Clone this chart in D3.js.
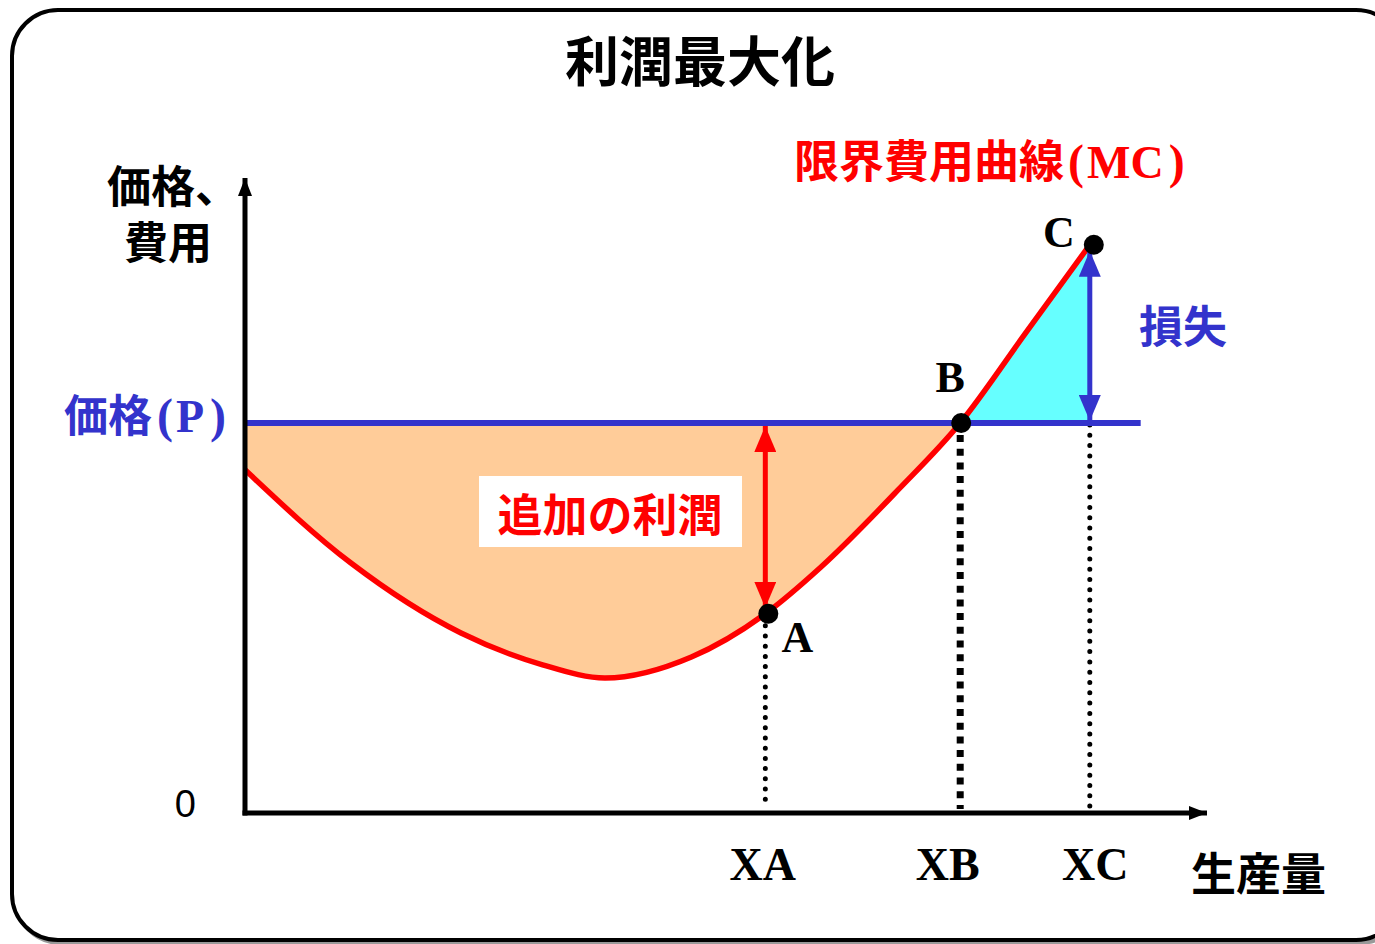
<!DOCTYPE html>
<html><head><meta charset="utf-8">
<script src="https://cdn.jsdelivr.net/npm/d3@7"></script>
<style>html,body{margin:0;padding:0;background:#fff;}svg{display:block;}</style>
</head><body>
<svg id="chart" width="1375" height="944"></svg>
<script>
// ---- data ----
const mcQuantity = [0, 11, 22.5, 31, 37.5, 46.5, 54.2, 60, 68, 74.5, 81.25, 88];
const mcCost     = [57.2, 41.7, 30, 24.7, 22.5, 26, 33.2, 41, 53.8, 65, 79.85, 94.7];
const price = 65;
const priceLineEnd = 93.3;
const pointNames = ["A", "B", "C"];
const pointQuantity = [54.2, 74.5, 88];
const pointCost = [33.2, 65, 94.7];
const xTickLabels = ["XA", "XB", "XC"];
const yTickValues = [0];

const CJK = "'Noto Sans CJK JP','Noto Sans CJK SC',sans-serif";
const SERIF = "'Liberation Serif','Times New Roman',serif";
const BLUE = "#3333cc", RED = "#ff0000";

const svg = d3.select("#chart");
const x = d3.scaleLinear().domain([0, 100]).range([245, 1205]);
const y = d3.scaleLinear().domain([0, 100]).range([813, 213]);
const mc = mcQuantity.map((q, i) => ({q, v: mcCost[i]}));

// frame
svg.append("rect").attr("x", 15).attr("y", 13).attr("width", 1390).attr("height", 930)
  .attr("rx", 46).attr("fill", "none").attr("stroke", "#999").attr("stroke-width", 4);
svg.append("rect").attr("x", 12).attr("y", 10).attr("width", 1390).attr("height", 930)
  .attr("rx", 46).attr("fill", "#fff").attr("stroke", "#000").attr("stroke-width", 4);

const defs = svg.append("defs");
function marker(id, color, w, l) {
  defs.append("marker").attr("id", id).attr("viewBox", `0 0 ${l} ${w}`)
    .attr("refX", l).attr("refY", w / 2).attr("markerWidth", l).attr("markerHeight", w)
    .attr("markerUnits", "userSpaceOnUse").attr("orient", "auto-start-reverse")
    .append("path").attr("d", `M0,0L${l},${w / 2}L0,${w}Z`).attr("fill", color);
}
marker("axArrow", "#000", 14, 18);
marker("redArrow", RED, 22, 26);
marker("blueArrow", BLUE, 22, 26);

// areas
const xB = pointQuantity[1], xC = pointQuantity[2];
defs.append("clipPath").attr("id", "clipProfit").append("rect")
  .attr("x", x(0)).attr("y", 0).attr("width", x(xB) - x(0)).attr("height", 944);
defs.append("clipPath").attr("id", "clipLoss").append("rect")
  .attr("x", x(xB)).attr("y", 0).attr("width", x(xC) - x(xB)).attr("height", 944);
const area = d3.area().x(d => x(d.q)).y0(y(price)).y1(d => y(d.v)).curve(d3.curveMonotoneX);
svg.append("path").datum(mc).attr("d", area).attr("fill", "#ffcc99").attr("clip-path", "url(#clipProfit)");
svg.append("path").datum(mc).attr("d", area).attr("fill", "#66ffff").attr("clip-path", "url(#clipLoss)");

// dotted guides
const guides = [
  {q: pointQuantity[0], top: y(pointCost[0]) + 12, w: 5, dash: "0 10.2", cap: "round"},
  {q: pointQuantity[1], top: y(pointCost[1]) + 12, w: 7, dash: "7 6.7", cap: "butt"},
  {q: pointQuantity[2], top: y(price) + 2, w: 5, dash: "0 10.3", cap: "round"}
];
guides.forEach(g => {
  svg.append("line").attr("x1", x(g.q)).attr("x2", x(g.q)).attr("y1", g.top).attr("y2", y(0) - 4)
    .attr("stroke", "#000").attr("stroke-width", g.w).attr("stroke-dasharray", g.dash)
    .attr("stroke-linecap", g.cap);
});

// price line
svg.append("line").attr("x1", x(0)).attr("x2", x(priceLineEnd)).attr("y1", y(price)).attr("y2", y(price))
  .attr("stroke", BLUE).attr("stroke-width", 6);

// MC curve
svg.append("path").datum(mc)
  .attr("d", d3.line().x(d => x(d.q)).y(d => y(d.v)).curve(d3.curveMonotoneX))
  .attr("fill", "none").attr("stroke", RED).attr("stroke-width", 5.5);

// arrows
svg.append("line").attr("x1", x(pointQuantity[0])).attr("x2", x(pointQuantity[0]))
  .attr("y1", y(price) + 3).attr("y2", y(pointCost[0]) - 6)
  .attr("stroke", RED).attr("stroke-width", 5)
  .attr("marker-start", "url(#redArrow)").attr("marker-end", "url(#redArrow)");
svg.append("line").attr("x1", x(xC) + 0).attr("x2", x(xC))
  .attr("y1", y(pointCost[2]) + 6).attr("y2", y(price) - 2)
  .attr("stroke", BLUE).attr("stroke-width", 5)
  .attr("marker-start", "url(#blueArrow)").attr("marker-end", "url(#blueArrow)");

// axes lines
svg.append("line").attr("x1", x(0)).attr("x2", x(0)).attr("y1", y(0) + 2.5).attr("y2", 178)
  .attr("stroke", "#000").attr("stroke-width", 5).attr("marker-end", "url(#axArrow)");
svg.append("line").attr("x1", x(0) - 2.5).attr("x2", 1207).attr("y1", y(0)).attr("y2", y(0))
  .attr("stroke", "#000").attr("stroke-width", 5).attr("marker-end", "url(#axArrow)");

// x axis ticks (labels only)
const xAxis = svg.append("g").attr("transform", `translate(0,${y(0)})`)
  .call(d3.axisBottom(x).tickValues(pointQuantity).tickFormat((d, i) => xTickLabels[i]).tickSize(0).tickPadding(0));
xAxis.select(".domain").remove();
xAxis.selectAll("text").attr("dy", null).attr("y", 67)
  .attr("font-family", SERIF).attr("font-weight", "bold").attr("font-size", 46).attr("fill", "#000")
  .attr("dx", (d, i) => [-3, -13, 5][i]);

// y axis tick "0"
const yAxis = svg.append("g").attr("transform", `translate(${x(0)},0)`)
  .call(d3.axisLeft(y).tickValues(yTickValues).tickFormat(d3.format("d")).tickSize(0).tickPadding(49));
yAxis.select(".domain").remove();
yAxis.selectAll("text").attr("dy", "0.1em").attr("font-family", "'Liberation Sans',Arial,sans-serif")
  .attr("font-size", 38).attr("fill", "#000");

// points
svg.selectAll("circle.pt").data(pointQuantity).join("circle").attr("class", "pt")
  .attr("cx", (d, i) => x(d) + [3, 1, 4][i]).attr("cy", (d, i) => y(pointCost[i]))
  .attr("r", 10).attr("fill", "#000");
const ptOffsets = [[32, 38], [-10, -31], [-31, 2]];
svg.selectAll("text.pl").data(pointNames).join("text").attr("class", "pl")
  .attr("x", (d, i) => x(pointQuantity[i]) + ptOffsets[i][0])
  .attr("y", (d, i) => y(pointCost[i]) + ptOffsets[i][1])
  .attr("text-anchor", "middle").attr("font-family", SERIF).attr("font-weight", "bold")
  .attr("font-size", 44).attr("fill", "#000").text(d => d);

// text labels
function cjk(txt, xx, yy, size, color, anchor) {
  return svg.append("text").attr("x", xx).attr("y", yy).attr("font-family", CJK).attr("font-weight", 700)
    .attr("font-size", size).attr("fill", color).attr("text-anchor", anchor || "start").text(txt);
}
cjk("利潤最大化", 700, 82, 54, "#000", "middle");
const mcLabel = svg.append("text").attr("x", 794).attr("y", 178).attr("fill", RED).attr("font-weight", 700);
mcLabel.append("tspan").attr("font-family", CJK).attr("font-size", 45).text("限界費用曲線");
mcLabel.append("tspan").attr("font-family", SERIF).attr("font-size", 48).attr("dx", 4).text("(");
mcLabel.append("tspan").attr("font-family", SERIF).attr("font-size", 46).attr("dx", 3).text("MC");
mcLabel.append("tspan").attr("font-family", SERIF).attr("font-size", 48).attr("dx", 5).text(")");
const yLabel = svg.append("text").attr("font-family", CJK).attr("font-weight", 700)
  .attr("font-size", 44).attr("fill", "#000");
yLabel.append("tspan").attr("x", 107).attr("y", 203).text("価格、");
yLabel.append("tspan").attr("x", 212).attr("y", 259).attr("text-anchor", "end").text("費用");
const pLabel = svg.append("text").attr("x", 64).attr("y", 432).attr("fill", BLUE).attr("font-weight", 700);
pLabel.append("tspan").attr("font-family", CJK).attr("font-size", 44).text("価格");
pLabel.append("tspan").attr("font-family", SERIF).attr("font-size", 48).attr("dx", 5).text("(");
pLabel.append("tspan").attr("font-family", SERIF).attr("font-size", 46).attr("dx", 3).text("P");
pLabel.append("tspan").attr("font-family", SERIF).attr("font-size", 48).attr("dx", 6).text(")");
cjk("損失", 1139, 343, 44, BLUE);
cjk("生産量", 1191, 891, 45, "#000");
svg.append("rect").attr("x", 479).attr("y", 476).attr("width", 263).attr("height", 71).attr("fill", "#fff");
cjk("追加の利潤", 610, 532, 45, RED, "middle");
</script>
</body></html>
